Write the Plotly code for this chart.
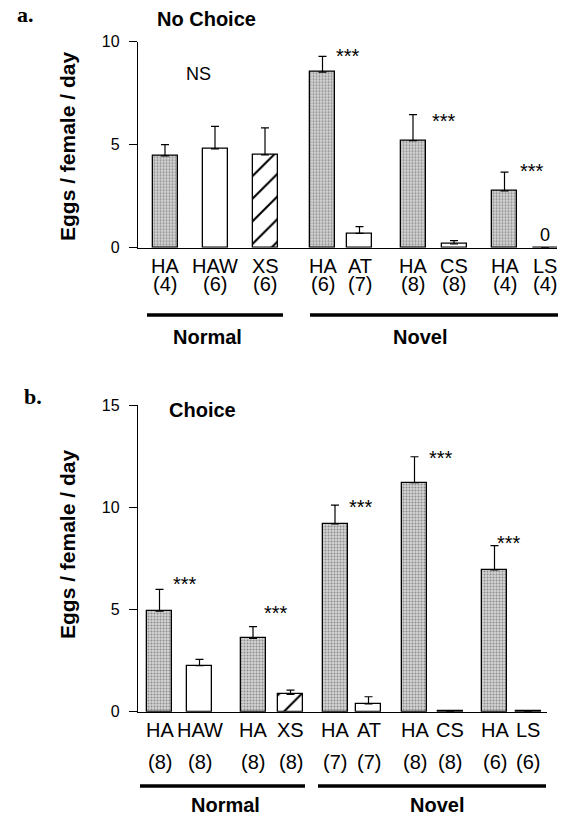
import plotly.graph_objects as go

# ---------------- data ----------------
a_labels = ["HA", "HAW", "XS", "HA", "AT", "HA", "CS", "HA", "LS"]
a_n = ["(4)", "(6)", "(6)", "(6)", "(7)", "(8)", "(8)", "(4)", "(4)"]
a_values = [4.46, 4.80, 4.51, 8.52, 0.70, 5.20, 0.18, 2.76, 0.0]
a_err = [0.54, 1.09, 1.31, 0.77, 0.32, 1.26, 0.16, 0.91, None]
a_fill = ["gray", "white", "hatch", "gray", "white", "gray", "white", "gray", "white"]

b_labels = ["HA", "HAW", "HA", "XS", "HA", "AT", "HA", "CS", "HA", "LS"]
b_n = ["(8)", "(8)", "(8)", "(8)", "(7)", "(7)", "(8)", "(8)", "(6)", "(6)"]
b_values = [4.92, 2.25, 3.59, 0.85, 9.18, 0.38, 11.20, 0.02, 6.93, 0.02]
b_err = [1.06, 0.31, 0.57, 0.21, 0.92, 0.35, 1.27, None, 1.19, None]
b_fill = ["gray", "white", "gray", "hatch", "gray", "white", "gray", "white", "gray", "white"]

a_sig_text = ["NS", "***", "***", "***", "0"]
a_sig_y = [8.45, 9.55, 6.40, 3.95, 0.62]
b_sig_text = ["***", "***", "***", "***", "***"]
b_sig_y = [6.50, 5.05, 10.25, 12.67, 8.50]

group_names = ["Normal", "Novel"]
y_title = "Eggs / female / day"

# ---------------- layout (pixel positions) ----------------
W, H = 568, 819
def PX(x): return x / W
def PY(y): return 1 - y / H

a_pos = [165, 215, 265, 322.5, 359.5, 413, 454, 504.5, 545]
b_pos = [159.5, 199.5, 253, 290.5, 335, 368.5, 414.5, 450, 494.5, 528]
a_sig_x = [198, 347.5, 443.5, 532, 545]
b_sig_x = [185, 275.5, 361, 440.5, 508.5]

FONT = "Liberation Sans, Arial, sans-serif"

styles = {
    "gray": dict(color="#c0c0c0", pattern=dict(shape=".", fgcolor="#8c8c8c", bgcolor="#d4d4d4",
                                                 size=3, solidity=0.35, fillmode="replace")),
    "white": dict(color="white", pattern=dict(shape="")),
    "hatch": dict(color="white", pattern=dict(shape="/", fgcolor="black", bgcolor="white",
                                                size=16, solidity=0.13, fillmode="replace")),
}

fig = go.Figure()

def add_bars(pos, vals, err, fills, xa, ya):
    for kind in ["gray", "white", "hatch"]:
        idx = [i for i, f in enumerate(fills) if f == kind]
        if not idx:
            continue
        fig.add_trace(go.Bar(
            x=[pos[i] for i in idx], y=[vals[i] for i in idx], width=25, xaxis=xa, yaxis=ya,
            marker=dict(color=styles[kind]["color"], line=dict(color="black", width=1.3),
                        pattern=styles[kind]["pattern"]),
            error_y=dict(type="data", symmetric=False,
                         array=[err[i] if err[i] is not None else float("nan") for i in idx],
                         arrayminus=[0] * len(idx),
                         color="black", thickness=1.2, width=4),
            showlegend=False, hoverinfo="skip",
        ))

add_bars(a_pos, a_values, a_err, a_fill, "x", "y")
add_bars(b_pos, b_values, b_err, b_fill, "x2", "y2")

ax_common = dict(showline=True, linecolor="black", linewidth=1.3, showticklabels=False,
                 ticks="", showgrid=False, zeroline=False, fixedrange=True, automargin=False)
ay_common = dict(showline=True, linecolor="black", linewidth=1.3, ticks="outside", ticklen=8,
                 tickwidth=1.2, tickcolor="black", showgrid=False, zeroline=False, automargin=False,
                 tickfont=dict(family=FONT, size=16, color="black"), ticklabelstandoff=6)

fig.update_layout(
    template="none",
    width=W, height=H, margin=dict(l=0, r=0, t=0, b=0, pad=0, autoexpand=False),
    paper_bgcolor="white", plot_bgcolor="white",
    bargap=0, barmode="overlay", showlegend=False,
    xaxis=dict(domain=[PX(138), PX(557)], range=[138, 557], anchor="y", **ax_common),
    yaxis=dict(domain=[PY(247.7), PY(41.7)], range=[0, 10], tickvals=[0, 5, 10], anchor="x", **ay_common),
    xaxis2=dict(domain=[PX(138), PX(547)], range=[138, 547], anchor="y2", **ax_common),
    yaxis2=dict(domain=[PY(711.7), PY(405)], range=[0, 15], tickvals=[0, 5, 10, 15], anchor="x2", **ay_common),
)

ann = []
def txt(x, y, t, size=20, bold=False, xref="paper", yref="paper", family=FONT, angle=0, yshift=0):
    ann.append(dict(x=x, y=y, xref=xref, yref=yref, text=("<b>%s</b>" % t) if bold else t,
                    showarrow=False, xanchor="center", yanchor="middle", textangle=angle,
                    yshift=yshift, font=dict(family=family, size=size, color="black")))

# category labels
for p, l, n in zip(a_pos, a_labels, a_n):
    txt(p, PY(266), l, xref="x")
    txt(p, PY(284), n, xref="x")
for p, l, n in zip(b_pos, b_labels, b_n):
    txt(p, PY(730), l, xref="x2")
    txt(p, PY(762), n, xref="x2")

# significance
for x, y, t in zip(a_sig_x, a_sig_y, a_sig_text):
    if t == "***":
        txt(x, y, t, size=20, xref="x", yref="y", yshift=-5)
    else:
        txt(x, y, t, size=18, xref="x", yref="y")
for x, y, t in zip(b_sig_x, b_sig_y, b_sig_text):
    txt(x, y, t, size=20, xref="x2", yref="y2", yshift=-5)

# group names
txt(PX(207), PY(337), group_names[0], size=20, bold=True)
txt(PX(420), PY(337), group_names[1], size=20, bold=True)
txt(PX(225), PY(805), group_names[0], size=20, bold=True)
txt(PX(437), PY(805), group_names[1], size=20, bold=True)

# titles and panel letters
txt(PX(206), PY(19), "No Choice", size=20, bold=True)
txt(PX(202), PY(410), "Choice", size=20, bold=True)
txt(PX(25), PY(14), "a.", size=22, bold=True, family="Liberation Serif, Times New Roman, serif")
txt(PX(33), PY(396), "b.", size=22, bold=True, family="Liberation Serif, Times New Roman, serif")

# y axis titles
txt(PX(67), PY(147), y_title, size=21, bold=True, angle=-90)
txt(PX(67), PY(545), y_title, size=21, bold=True, angle=-90)

fig.update_layout(annotations=ann)

# group underlines
shapes = []
for (x0, x1, y) in [(147, 283, 315), (310, 558, 315), (140, 305, 786), (318, 546, 786)]:
    shapes.append(dict(type="line", xref="paper", yref="paper", x0=PX(x0), x1=PX(x1),
                       y0=PY(y), y1=PY(y), line=dict(color="black", width=3.5)))
fig.update_layout(shapes=shapes)

fig.write_html("out.html", config={"displayModeBar": False},
               post_script="document.body.style.margin='0';document.body.style.overflow='hidden';")
